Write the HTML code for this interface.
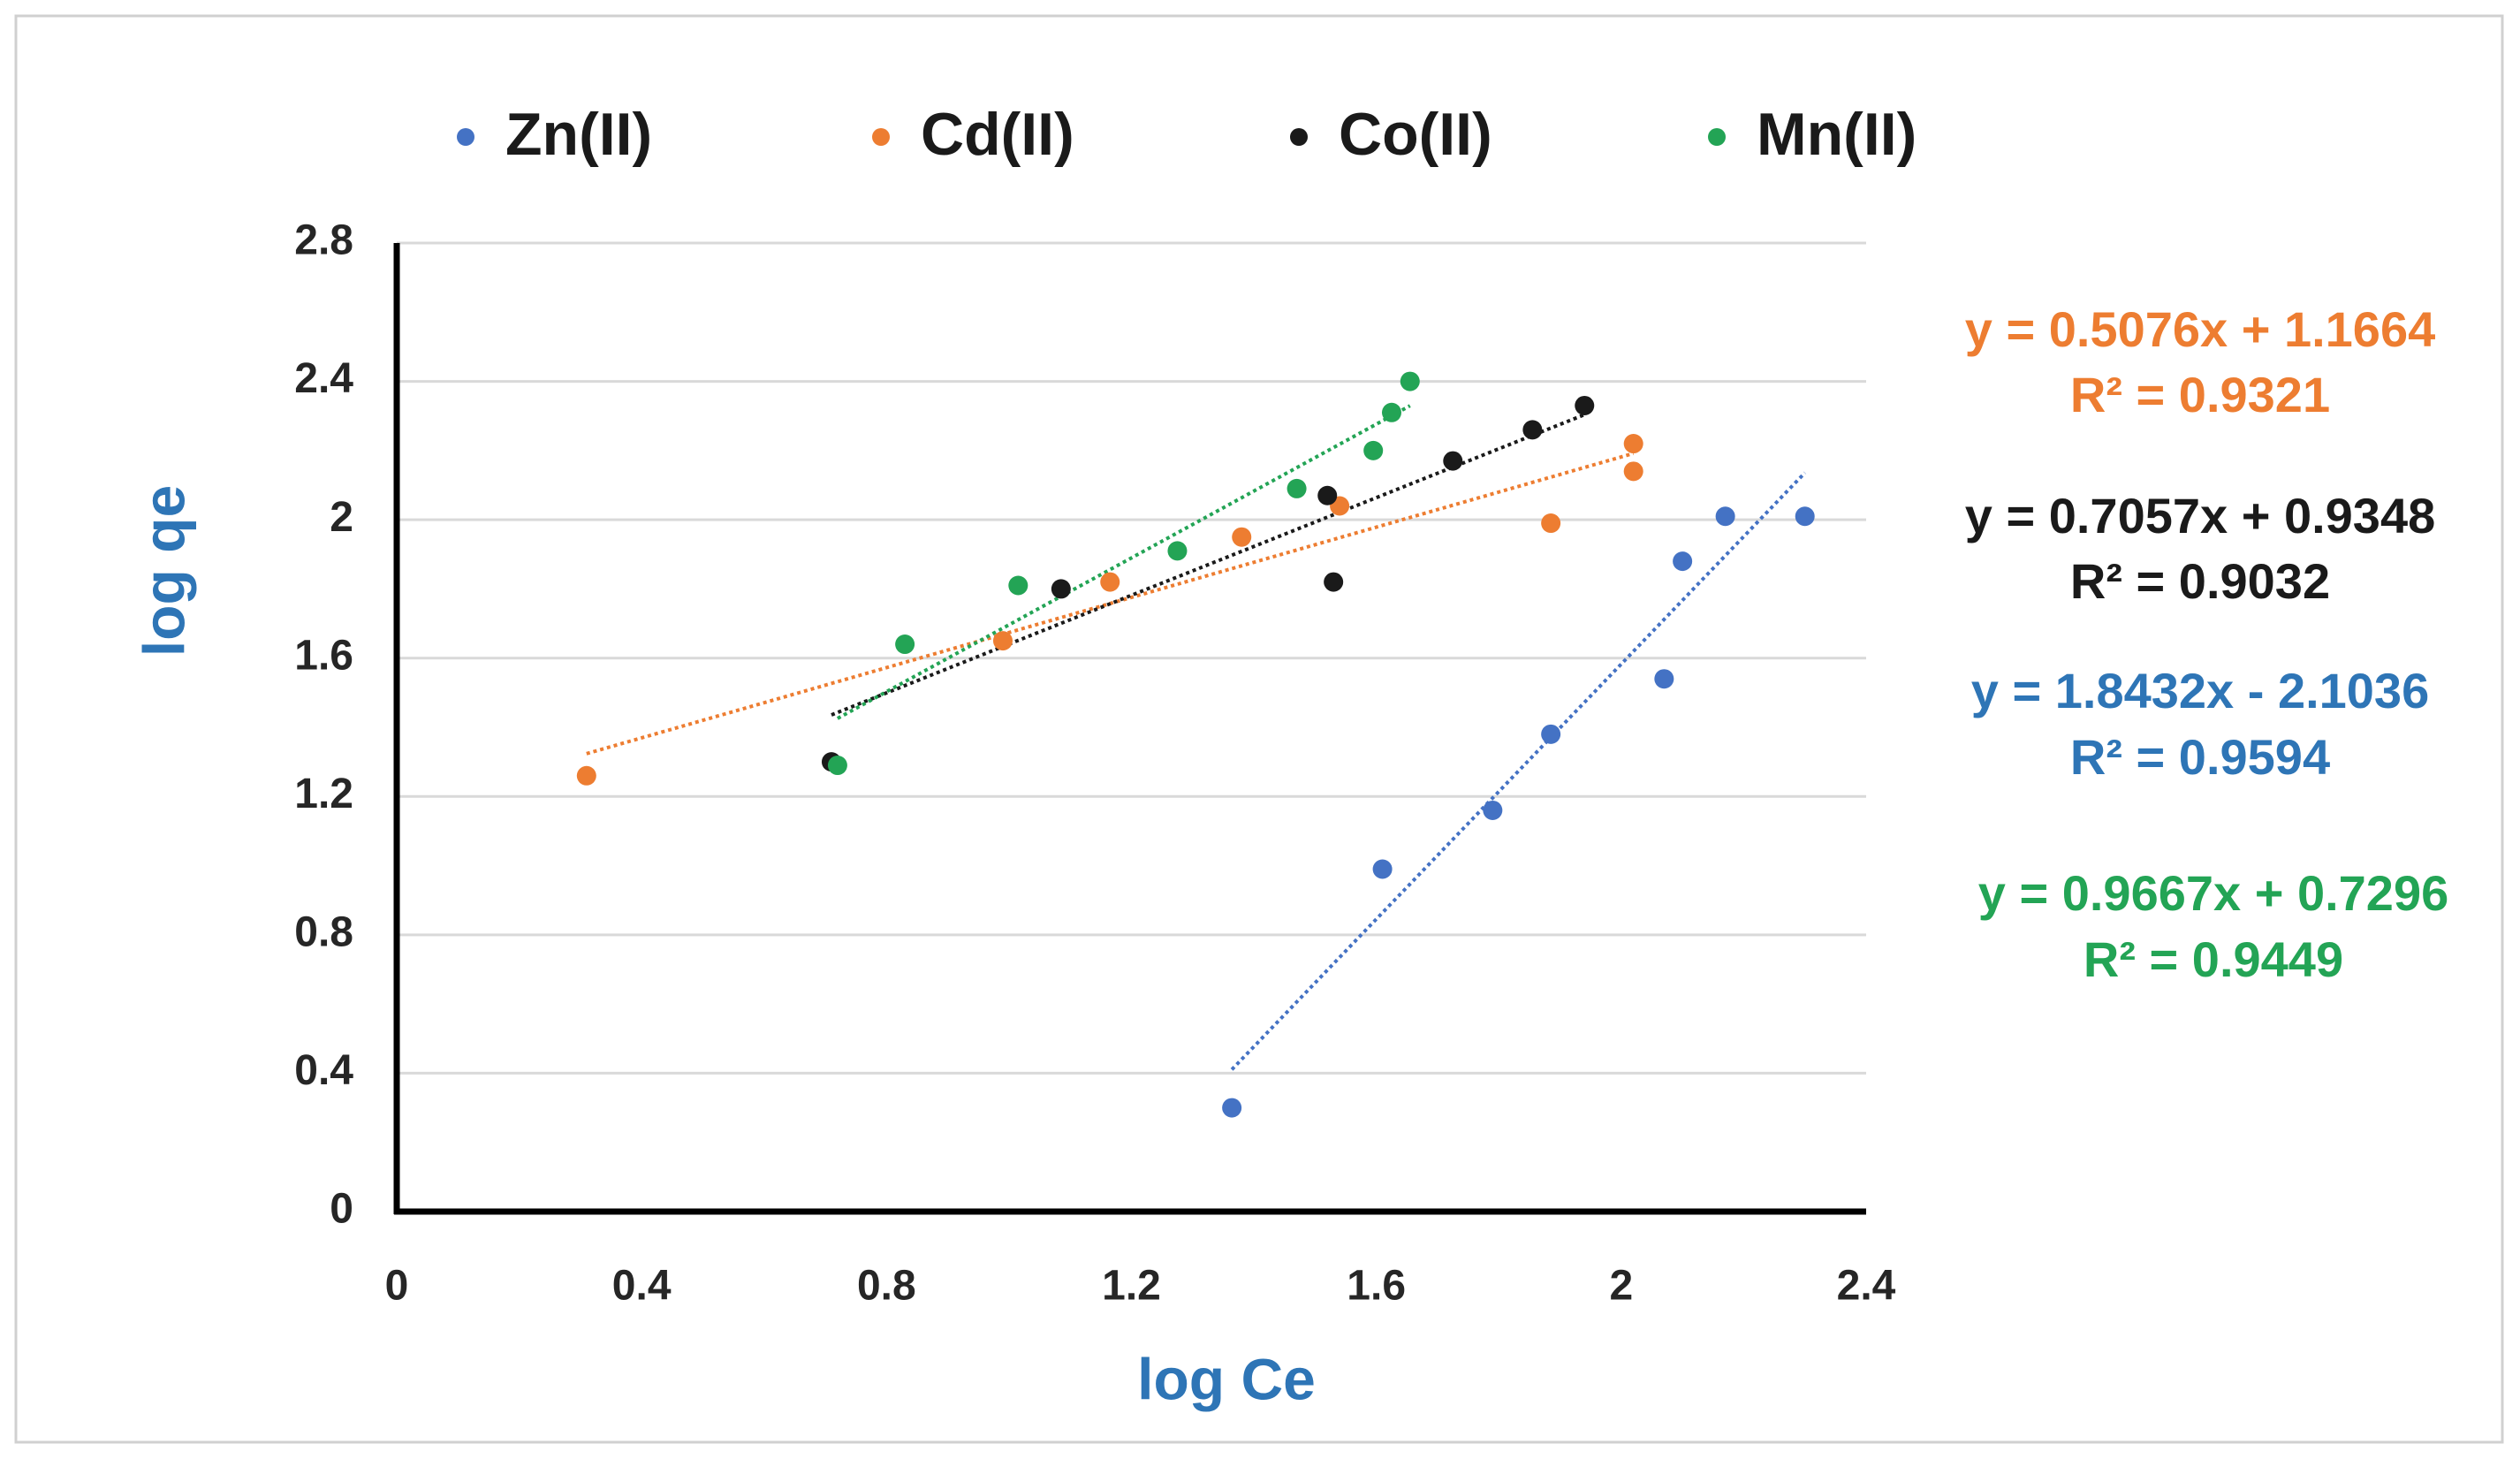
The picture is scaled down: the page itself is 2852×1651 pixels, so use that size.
<!DOCTYPE html>
<html><head><meta charset="utf-8"><style>
html,body{margin:0;padding:0;background:#fff;}
svg{display:block;font-family:"Liberation Sans",sans-serif;font-weight:bold;}
</style></head><body>
<svg id="chart" width="2852" height="1651" viewBox="0 0 2852 1651" xmlns="http://www.w3.org/2000/svg">
<rect x="18" y="18" width="2814" height="1614" fill="#fff" stroke="#d0d0d0" stroke-width="3"/>
<g id="grid"></g>
<g id="trend"></g>
<g id="pts"></g>
<g id="axes"></g>
<g id="legend"></g>
<text x="191" y="646" transform="rotate(-90 191 646)" text-anchor="middle" dominant-baseline="middle" font-size="66" fill="#2e75b6">log qe</text>
<text x="1388" y="1566" text-anchor="middle" dominant-baseline="middle" font-size="66" fill="#2e75b6">log Ce</text>
<g font-size="56" text-anchor="middle">
<text x="2490" y="392" fill="#ed7d31">y = 0.5076x + 1.1664</text>
<text x="2490" y="466" fill="#ed7d31">R² = 0.9321</text>
<text x="2490" y="603" fill="#1a1a1a">y = 0.7057x + 0.9348</text>
<text x="2490" y="677" fill="#1a1a1a">R² = 0.9032</text>
<text x="2490" y="801" fill="#2e75b6">y = 1.8432x - 2.1036</text>
<text x="2490" y="876" fill="#2e75b6">R² = 0.9594</text>
<text x="2505" y="1030" fill="#23a455">y = 0.9667x + 0.7296</text>
<text x="2505" y="1105" fill="#23a455">R² = 0.9449</text>
</g>
</svg>
<script>
const xTicks = [0,0.4,0.8,1.2,1.6,2,2.4];
const yTicks = [0,0.4,0.8,1.2,1.6,2,2.4,2.8];
const seriesNames = ["Zn(II)","Cd(II)","Co(II)","Mn(II)"];
const seriesColors = ["#4472c4","#ed7d31","#1a1a1a","#23a455"];
const znX = [1.364,1.61,1.79,1.885,2.07,2.10,2.17,2.30];
const znY = [0.30,0.99,1.16,1.38,1.54,1.88,2.01,2.01];
const cdX = [0.31,0.99,1.165,1.38,1.54,1.885,2.02,2.02];
const cdY = [1.26,1.65,1.82,1.95,2.04,1.99,2.14,2.22];
const coX = [0.71,1.085,1.52,1.53,1.725,1.855,1.94];
const coY = [1.30,1.80,2.07,1.82,2.17,2.26,2.33];
const mnX = [0.72,0.83,1.015,1.275,1.47,1.595,1.625,1.655];
const mnY = [1.29,1.64,1.81,1.91,2.09,2.20,2.31,2.40];
const slopes = [1.8432,0.5076,0.7057,0.9667];
const intercepts = [-2.1036,1.1664,0.9348,0.7296];

const NS="http://www.w3.org/2000/svg";
const X0=449,X1=2112,Y0=1371,Y1=275;
function sx(v){return X0+(v/2.4)*(X1-X0);}
function sy(v){return Y0-(v/2.8)*(Y0-Y1);}
function mk(tag,attrs,parent){const e=document.createElementNS(NS,tag);for(const k in attrs)e.setAttribute(k,attrs[k]);parent.appendChild(e);return e;}
const grid=document.getElementById('grid'),axes=document.getElementById('axes'),trend=document.getElementById('trend'),pts=document.getElementById('pts'),legend=document.getElementById('legend');
yTicks.forEach(t=>{
  if(t>0){const g=mk('line',{x1:X0,x2:X1,y1:sy(t),y2:sy(t),stroke:'#d9d9d9','stroke-width':3},grid);
  
  }
  const l=mk('text',{x:400,y:sy(t),'text-anchor':'end','dominant-baseline':'middle','font-size':48,fill:'#262626'},axes);
  l.textContent=t;
  
  
});
xTicks.forEach(t=>{
  const l=mk('text',{x:sx(t),y:1458,'text-anchor':'middle','dominant-baseline':'middle','font-size':48,fill:'#262626'},axes);
  l.textContent=t;
  
  
});
const ya=mk('line',{x1:X0,x2:X0,y1:Y1,y2:Y0+3,stroke:'#000','stroke-width':7},axes);


const xa=mk('line',{x1:X0-3,x2:X1,y1:Y0,y2:Y0,stroke:'#000','stroke-width':7},axes);


const allX=[znX,cdX,coX,mnX],allY=[znY,cdY,coY,mnY];
for(let s=0;s<4;s++){
  const xs=allX[s],mn=Math.min(...xs),mx=Math.max(...xs);
  const tl=mk('line',{x1:sx(mn),y1:sy(slopes[s]*mn+intercepts[s]),x2:sx(mx),y2:sy(slopes[s]*mx+intercepts[s]),stroke:seriesColors[s],'stroke-width':4,'stroke-dasharray':'4 4'},trend);
  
  
  xs.forEach((x,i)=>{
    const c=mk('circle',{cx:sx(x),cy:sy(allY[s][i]),r:11,fill:seriesColors[s]},pts);
    
    
  });
}
const lmx=[527,997,1470,1943];
for(let s=0;s<4;s++){
  const c=mk('circle',{cx:lmx[s],cy:155,r:10,fill:seriesColors[s]},legend);
  
  
  const t=mk('text',{x:lmx[s]+45,y:157,'dominant-baseline':'middle','font-size':68,fill:'#1a1a1a'},legend);
  t.textContent=seriesNames[s];
  
  
}
</script>
</body></html>
